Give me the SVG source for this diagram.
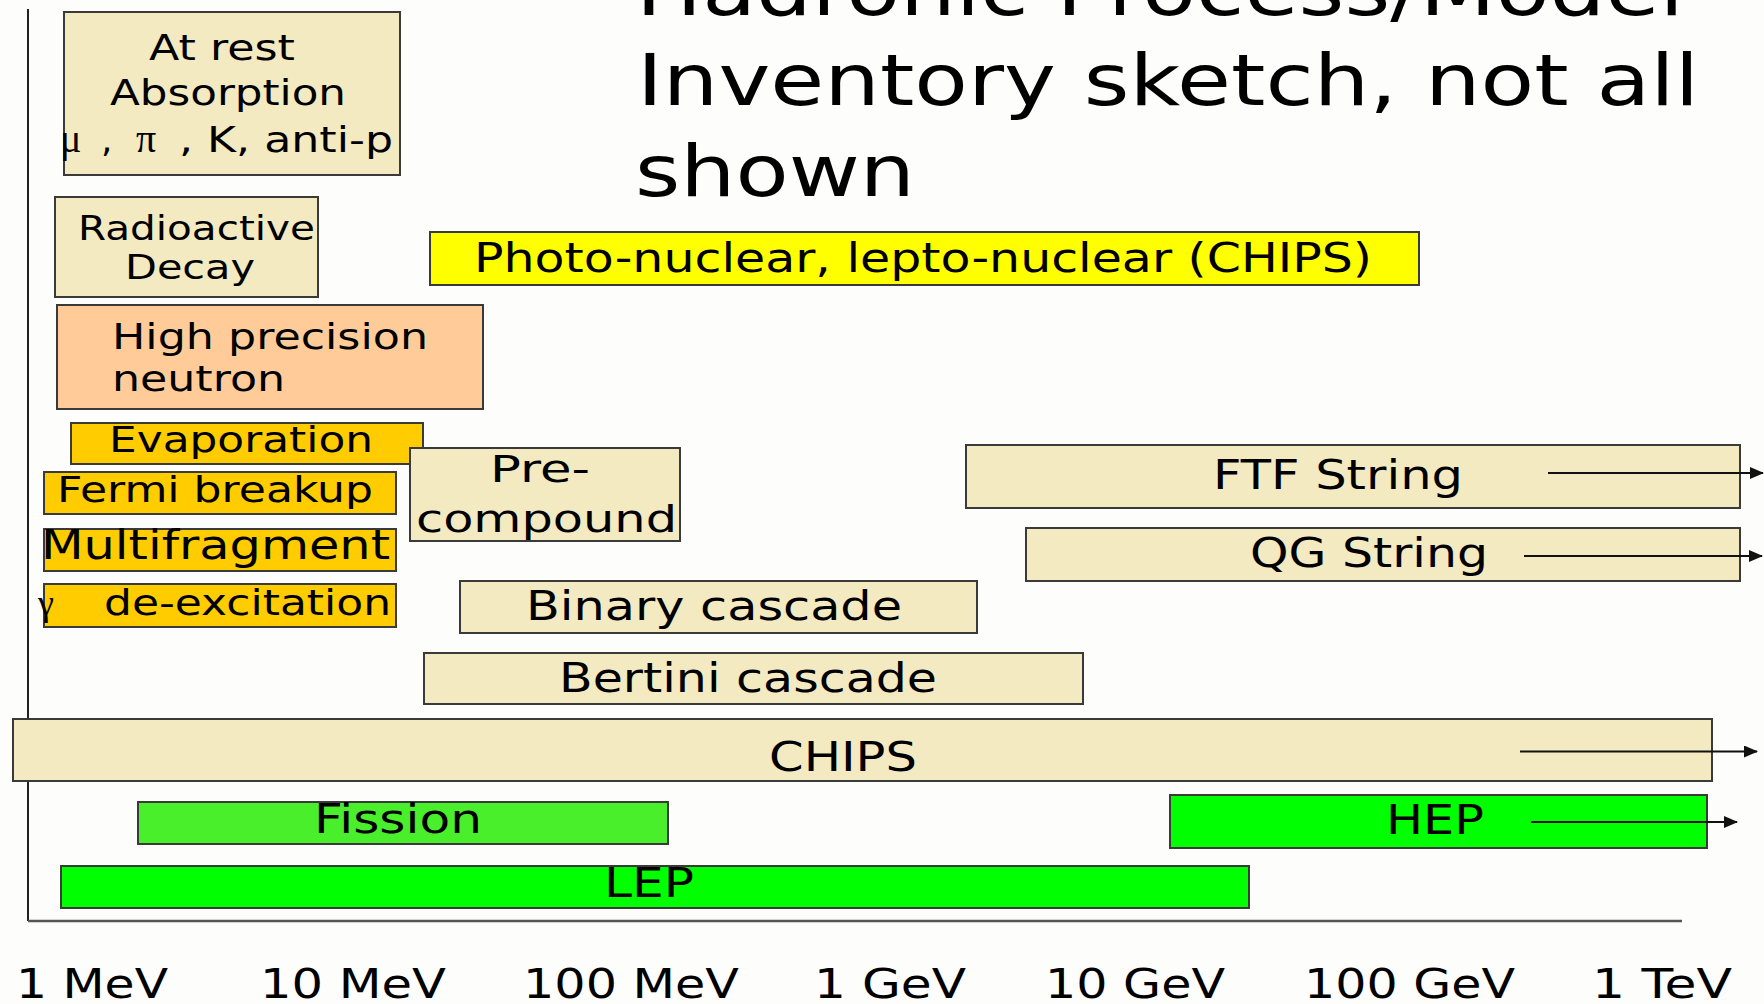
<svg xmlns="http://www.w3.org/2000/svg" width="1764" height="1004" viewBox="0 0 1764 1004">
<defs>
<marker id="ah" viewBox="0 0 14 12" refX="13" refY="6" markerWidth="14" markerHeight="12" markerUnits="userSpaceOnUse" orient="auto">
<path d="M0,0 L14,6 L0,12 Z" fill="#111"/>
</marker>
</defs>
<style>
text{font-family:"DejaVu Sans","Liberation Sans",sans-serif;fill:#000;}
.g{font-family:"Liberation Serif","DejaVu Serif",serif;}
rect{stroke:#3a3a3a;stroke-width:2;}
.tan{fill:#f3eac2;}
.peach{fill:#ffcc99;}
.orange{fill:#ffcc00;}
.yellow{fill:#ffff00;}
.fis{fill:#4aef2b;}
.green{fill:#00ff00;}
.arr{stroke:#111;stroke-width:2;fill:none;marker-end:url(#ah);}
.f34{font-size:34px;}
.f36{font-size:36px;}
.f35{font-size:35px;}
.f38{font-size:38px;}
.f40{font-size:40px;}
.f41{font-size:41px;}
.t{font-size:72px;}
</style>
<rect x="0" y="0" width="1764" height="1004" fill="#fdfdfb" style="stroke:none"/>
<g id="axes">
<line x1="28" y1="9" x2="28" y2="921" stroke="#222" stroke-width="2"/>
<line x1="28" y1="921" x2="1682" y2="921" stroke="#555" stroke-width="2.5"/>
</g>
<g id="title">
<text class="t" x="636" y="15" textLength="1048" lengthAdjust="spacingAndGlyphs">Hadronic Process/Model</text>
<text class="t" x="637" y="105" textLength="1062" lengthAdjust="spacingAndGlyphs">Inventory sketch, not all</text>
<text class="t" x="635" y="196" textLength="280" lengthAdjust="spacingAndGlyphs">shown</text>
</g>
<g id="at-rest">
<rect class="tan" x="64" y="12" width="336" height="163"/>
<text class="f36" x="149" y="60" textLength="146" lengthAdjust="spacingAndGlyphs">At rest</text>
<text class="f36" x="110" y="105" textLength="236" lengthAdjust="spacingAndGlyphs">Absorption</text>
<text class="f36" y="152"><tspan class="g" x="60" font-size="40">μ</tspan><tspan x="101">, </tspan><tspan class="g" x="136" font-size="40">π</tspan><tspan x="179" textLength="214" lengthAdjust="spacingAndGlyphs">, K, anti-p</tspan></text>
</g>
<g id="radioactive">
<rect class="tan" x="55" y="197" width="263" height="100"/>
<text class="f34" x="78" y="240" textLength="237" lengthAdjust="spacingAndGlyphs">Radioactive</text>
<text class="f34" x="125" y="279" textLength="130" lengthAdjust="spacingAndGlyphs">Decay</text>
</g>
<g id="photo-nuclear">
<rect class="yellow" x="430" y="232" width="989" height="53"/>
<text class="f40" x="474" y="272" textLength="898" lengthAdjust="spacingAndGlyphs">Photo-nuclear, lepto-nuclear (CHIPS)</text>
</g>
<g id="high-precision">
<rect class="peach" x="57" y="305" width="426" height="104"/>
<text class="f36" x="112" y="349" textLength="316" lengthAdjust="spacingAndGlyphs">High precision</text>
<text class="f36" x="112" y="391" textLength="173" lengthAdjust="spacingAndGlyphs">neutron</text>
</g>
<g id="evaporation">
<rect class="orange" x="71" y="423" width="352" height="41"/>
<text class="f35" x="109" y="452" textLength="264" lengthAdjust="spacingAndGlyphs">Evaporation</text>
</g>
<g id="fermi">
<rect class="orange" x="44" y="472" width="352" height="42"/>
<text class="f35" x="57" y="502" textLength="316" lengthAdjust="spacingAndGlyphs">Fermi breakup</text>
</g>
<g id="multifragment">
<rect class="orange" x="44" y="529" width="352" height="42"/>
<text class="f40" x="41" y="559" textLength="349" lengthAdjust="spacingAndGlyphs">Multifragment</text>
</g>
<g id="gamma">
<rect class="orange" x="44" y="584" width="352" height="43"/>
<text class="f35" y="615"><tspan class="g" x="38" font-size="36">γ</tspan><tspan x="104" textLength="287" lengthAdjust="spacingAndGlyphs">de-excitation</tspan></text>
</g>
<g id="precompound">
<rect class="tan" x="410" y="448" width="270" height="93"/>
<text class="f38" x="490" y="482" textLength="100" lengthAdjust="spacingAndGlyphs">Pre-</text>
<text class="f38" x="416" y="532" textLength="261" lengthAdjust="spacingAndGlyphs">compound</text>
</g>
<g id="ftf">
<rect class="tan" x="966" y="445" width="774" height="63"/>
<text class="f40" x="1213" y="489" textLength="250" lengthAdjust="spacingAndGlyphs">FTF String</text>
</g>
<g id="qg">
<rect class="tan" x="1026" y="528" width="714" height="53"/>
<text class="f40" x="1250" y="567" textLength="238" lengthAdjust="spacingAndGlyphs">QG String</text>
</g>
<g id="binary">
<rect class="tan" x="460" y="581" width="517" height="52"/>
<text class="f40" x="526" y="620" textLength="376" lengthAdjust="spacingAndGlyphs">Binary cascade</text>
</g>
<g id="bertini">
<rect class="tan" x="424" y="653" width="659" height="51"/>
<text class="f40" x="559" y="692" textLength="378" lengthAdjust="spacingAndGlyphs">Bertini cascade</text>
</g>
<g id="chips">
<rect class="tan" x="13" y="719" width="1699" height="62"/>
<text class="f41" x="769" y="771" textLength="148" lengthAdjust="spacingAndGlyphs">CHIPS</text>
</g>
<g id="fission">
<rect class="fis" x="138" y="802" width="530" height="42"/>
<text class="f40" x="314" y="833" textLength="168" lengthAdjust="spacingAndGlyphs">Fission</text>
</g>
<g id="hep">
<rect class="green" x="1170" y="795" width="537" height="53"/>
<text class="f40" x="1386" y="834" textLength="98" lengthAdjust="spacingAndGlyphs">HEP</text>
</g>
<g id="lep">
<rect class="green" x="61" y="866" width="1188" height="42"/>
<text class="f40" x="604" y="897" textLength="90" lengthAdjust="spacingAndGlyphs">LEP</text>
</g>
<g id="connectors">
<line class="arr" x1="1548" y1="473" x2="1763" y2="473"/>
<line class="arr" x1="1524" y1="556" x2="1762" y2="556"/>
<line class="arr" x1="1520" y1="751.5" x2="1757" y2="751.5"/>
<line class="arr" x1="1531" y1="822" x2="1737" y2="822"/>
</g>
<g id="axis-labels">
<text class="f41" x="16" y="998" textLength="152" lengthAdjust="spacingAndGlyphs">1 MeV</text>
<text class="f41" x="260" y="998" textLength="186" lengthAdjust="spacingAndGlyphs">10 MeV</text>
<text class="f41" x="523" y="998" textLength="216" lengthAdjust="spacingAndGlyphs">100 MeV</text>
<text class="f41" x="814" y="998" textLength="152" lengthAdjust="spacingAndGlyphs">1 GeV</text>
<text class="f41" x="1045" y="998" textLength="180" lengthAdjust="spacingAndGlyphs">10 GeV</text>
<text class="f41" x="1304" y="998" textLength="211" lengthAdjust="spacingAndGlyphs">100 GeV</text>
<text class="f41" x="1592" y="998" textLength="140" lengthAdjust="spacingAndGlyphs">1 TeV</text>
</g>
</svg>
